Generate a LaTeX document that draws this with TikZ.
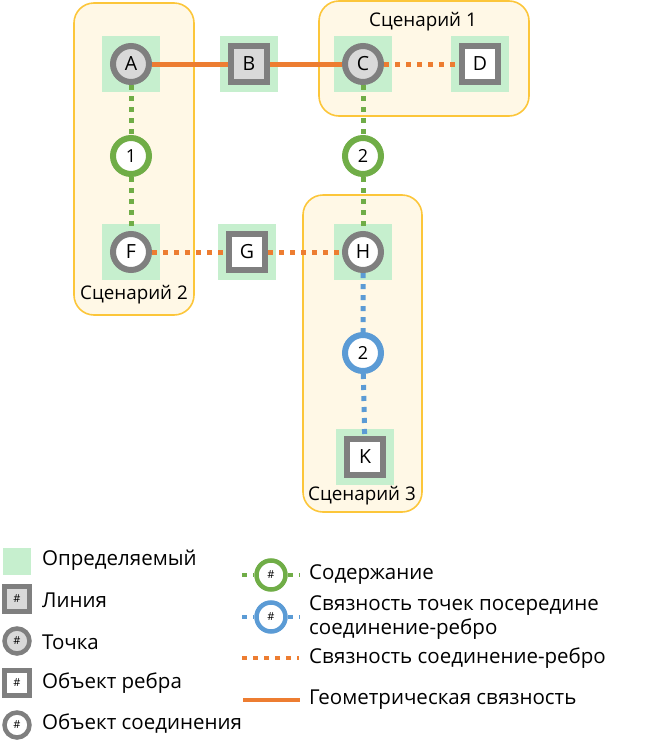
\documentclass[tikz,border=0pt]{standalone}
\usepackage{fontspec}
\setmainfont{Open Sans}
\usetikzlibrary{calc}

\definecolor{geoorange}{HTML}{ED7D31}
\definecolor{contgreen}{HTML}{70AD47}
\definecolor{midblue}{HTML}{5B9BD5}
\definecolor{ringgray}{HTML}{7F7F7F}
\definecolor{fillgray}{HTML}{D9D9D9}
\definecolor{defgreen}{HTML}{C6EFCE}
\definecolor{scenfill}{HTML}{FFF8E6}
\definecolor{scenline}{HTML}{FCC63A}

\begin{document}
\begin{tikzpicture}[x=1pt, y=-1pt, font=\fontsize{19.5}{22}\selectfont,
  pointobj/.style={circle, draw=ringgray, line width=6pt, fill=fillgray, minimum size=36pt, inner sep=0pt},
  junctionobj/.style={pointobj, fill=white},
  lineobj/.style={rectangle, draw=ringgray, line width=6pt, fill=fillgray, minimum size=36pt, inner sep=0pt},
  edgeobj/.style={lineobj, fill=white},
  containobj/.style={circle, draw=contgreen, line width=6pt, fill=white, minimum size=36pt, inner sep=0pt, font=\fontsize{18}{20}\selectfont},
  midobj/.style={containobj, draw=midblue},
  geoline/.style={draw=geoorange, line width=5pt},
  jeline/.style={geoline, dash pattern=on 5pt off 6pt},
  contline/.style={draw=contgreen, line width=5pt, dash pattern=on 5pt off 6pt},
  midline/.style={draw=midblue, line width=5pt, dash pattern=on 5pt off 6pt},
  scenbox/.style={draw=scenline, line width=1.6pt, fill=scenfill, rounded corners=20pt},
  scentext/.style={font=\fontsize{18.8}{21}\selectfont},
  lgicon/.style={line width=4.5pt, minimum size=25pt, font=\fontsize{11}{12}\selectfont},
  lgtext/.style={anchor=west, inner sep=0pt, font=\fontsize{20.5}{24}\selectfont}
]
  \useasboundingbox (0,0) rectangle (650,742);
  % Scenario areas
  \draw[scenbox] (74,3) rectangle (194,315);
  \draw[scenbox] (319,1) rectangle (529,116);
  \draw[scenbox] (303,195) rectangle (422,512);
  \node[scentext] (sc1) at (423,22) {Сценарий 1};
  \node[scentext] (sc2) at (134,295) {Сценарий 2};
  \node[scentext] (sc3) at (362,496) {Сценарий 3};
  % Defined features (green squares)
  \foreach \x/\y in {131/64, 249/64, 363/64, 480/64, 131/252, 247/252, 363/252, 365/457} {
    \fill[defgreen] (\x-29,\y-28) rectangle (\x+29,\y+28);
  }
  % Features
  \node[pointobj] (A) at (131,64) {A};
  \node[lineobj] (B) at (249,64) {B};
  \node[pointobj] (C) at (363,64) {C};
  \node[edgeobj] (D) at (480,64) {D};
  \node[containobj] (c1) at (131,156) {1};
  \node[containobj] (c2) at (363,156) {2};
  \node[junctionobj] (F) at (131,252) {F};
  \node[edgeobj] (G) at (247,252) {G};
  \node[junctionobj] (H) at (363,252) {H};
  \node[midobj] (m2) at (363,353) {2};
  \node[edgeobj] (K) at (365,457) {K};
  % Associations
  \draw[geoline] (A) -- (B);
  \draw[geoline] (B) -- (C);
  \draw[jeline] (C) -- (D);
  \draw[contline] (A) -- (c1) -- (F);
  \draw[contline] (C) -- (c2) -- (H);
  \draw[jeline] (F) -- (G) -- (H);
  \draw[midline] (H) -- (m2) -- (K);
  % Legend, left column
  \fill[defgreen] (3,548) rectangle (31,575);
  \node[lgtext] (lgDefT) at (42,560) {Определяемый};
  \node[lineobj, lgicon] (lgLine) at (17,599) {\#};
  \node[lgtext] (lgLineT) at (42,600) {Линия};
  \node[pointobj, lgicon] (lgPoint) at (17,641) {\#};
  \node[lgtext] (lgPointT) at (42,642) {Точка};
  \node[edgeobj, lgicon] (lgEdge) at (17,683) {\#};
  \node[lgtext] (lgEdgeT) at (42,683) {Объект ребра};
  \node[junctionobj, lgicon] (lgJunc) at (17,725) {\#};
  \node[lgtext] (lgJuncT) at (42,724) {Объект соединения};
  % Legend, right column
  \coordinate (lgC1) at (242,575);
  \coordinate (lgC2) at (299,575);
  \node[containobj, lgicon, minimum size=29pt] (lgCont) at (271,575) {\#};
  \draw[contline, line width=4pt] (lgC1) -- (lgCont) -- (lgC2);
  \node[lgtext] (lgContT) at (309,575) {Содержание};
  \coordinate (lgM1) at (242,617);
  \coordinate (lgM2) at (299,617);
  \node[midobj, lgicon, minimum size=29pt] (lgMid) at (271,617) {\#};
  \draw[midline, line width=4pt] (lgM1) -- (lgMid) -- (lgM2);
  \node[lgtext, align=left] (lgMidT) at (309,618) {Связность точек посередине\\соединение-ребро};
  \coordinate (lgJ1) at (242,658);
  \coordinate (lgJ2) at (299,658);
  \draw[jeline, line width=4pt] (lgJ1) -- (lgJ2);
  \node[lgtext] (lgJT) at (309,658) {Связность соединение-ребро};
  \coordinate (lgG1) at (243,700);
  \coordinate (lgG2) at (300,700);
  \draw[geoline, line width=4pt] (lgG1) -- (lgG2);
  \node[lgtext] (lgGT) at (309,700) {Геометрическая связность};
\end{tikzpicture}
\end{document}
